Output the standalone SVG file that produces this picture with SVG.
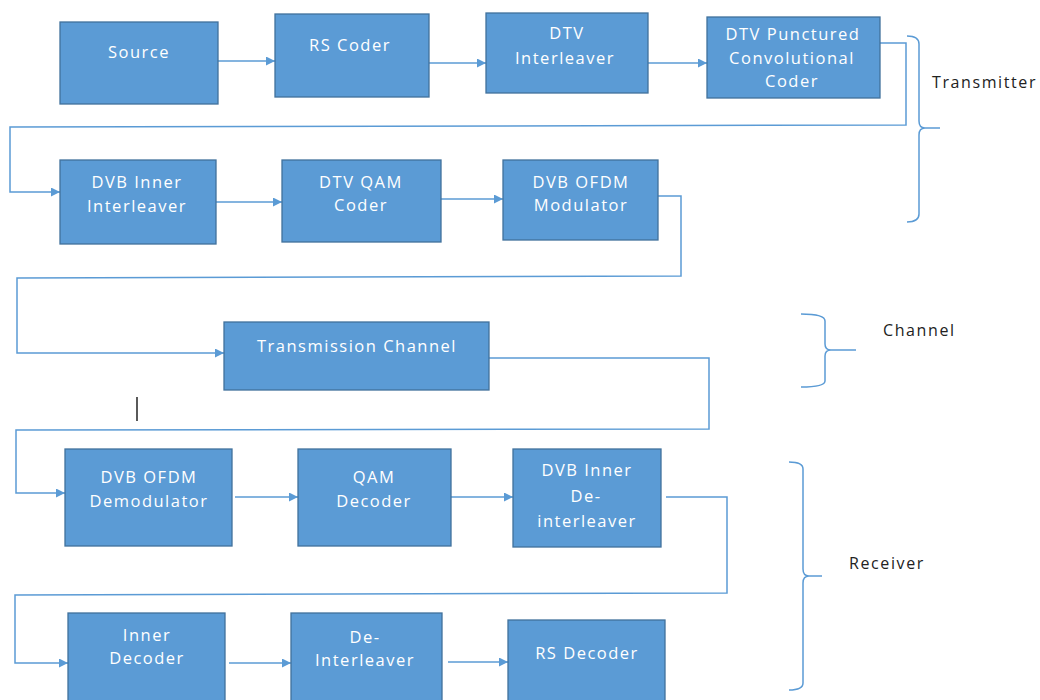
<svg xmlns="http://www.w3.org/2000/svg" width="1040" height="700" viewBox="0 0 1040 700">
<defs>
<marker id="ah" viewBox="0 0 10 10" refX="10" refY="5" markerWidth="9" markerHeight="9" markerUnits="userSpaceOnUse" orient="auto">
<path d="M0,0 L10,5 L0,10 z" fill="#5B9BD5"/>
</marker>
<style>
.box{fill:#5B9BD5;stroke:#41719C;stroke-width:1.3}
.t{fill:#ffffff;font-family:"Open Sans","DejaVu Sans",sans-serif;font-size:16.5px;text-anchor:middle;letter-spacing:1.5px}
.a{fill:none;stroke:#5B9BD5;stroke-width:1.5;marker-end:url(#ah)}
.br{fill:none;stroke:#5B9BD5;stroke-width:1.5}
.lab{fill:#222;font-family:"Open Sans","DejaVu Sans",sans-serif;font-size:16px;letter-spacing:1.6px}
</style>
</defs>
<rect width="1040" height="700" fill="#ffffff"/>

<g id="connectors">
<line class="a" x1="218" y1="61" x2="275" y2="61"/>
<line class="a" x1="429" y1="63" x2="486" y2="63"/>
<line class="a" x1="648" y1="63" x2="707" y2="63"/>
<path class="a" d="M880,43 H906 V125 L10,127 V192 H60"/>
<line class="a" x1="216" y1="202" x2="282" y2="202"/>
<line class="a" x1="441" y1="199" x2="503" y2="199"/>
<path class="a" d="M658,196 H681 V276 L17,278 V353 H224"/>
<path class="a" d="M489,358 H709 V429 L16,430 V493 H65"/>
<line class="a" x1="235" y1="497" x2="298" y2="497"/>
<line class="a" x1="451" y1="497" x2="513" y2="497"/>
<path class="a" d="M666,497 H727 V593 L15,595 V663 H68"/>
<line class="a" x1="229" y1="663" x2="291" y2="663"/>
<line class="a" x1="448" y1="662" x2="508" y2="662"/>
</g>

<g id="source"><rect class="box" x="60" y="22" width="158" height="82"/><text class="t" x="139" y="58">Source</text></g>
<g id="rs-coder"><rect class="box" x="275" y="14" width="154" height="83"/><text class="t" x="350" y="51">RS Coder</text></g>
<g id="dtv-interleaver"><rect class="box" x="486" y="13" width="162" height="80"/><text class="t" x="567" y="39">DTV</text><text class="t" x="565" y="64">Interleaver</text></g>
<g id="dtv-punctured"><rect class="box" x="707" y="17" width="173" height="81"/><text class="t" x="793" y="40">DTV Punctured</text><text class="t" x="792" y="64">Convolutional</text><text class="t" x="792" y="87">Coder</text></g>

<g id="dvb-inner-interleaver"><rect class="box" x="60" y="160" width="156" height="84"/><text class="t" x="137" y="188">DVB Inner</text><text class="t" x="137" y="212">Interleaver</text></g>
<g id="dtv-qam-coder"><rect class="box" x="282" y="160" width="159" height="82"/><text class="t" x="361" y="188">DTV QAM</text><text class="t" x="361" y="211">Coder</text></g>
<g id="dvb-ofdm-mod"><rect class="box" x="503" y="160" width="155" height="80"/><text class="t" x="581" y="188">DVB OFDM</text><text class="t" x="581" y="211">Modulator</text></g>

<g id="transmission-channel"><rect class="box" x="224" y="322" width="265" height="68"/><text class="t" x="357" y="352">Transmission Channel</text></g>

<g id="dvb-ofdm-demod"><rect class="box" x="65" y="449" width="167" height="97"/><text class="t" x="149" y="483">DVB OFDM</text><text class="t" x="149" y="507">Demodulator</text></g>
<g id="qam-decoder"><rect class="box" x="298" y="449" width="153" height="97"/><text class="t" x="374" y="483">QAM</text><text class="t" x="374" y="507">Decoder</text></g>
<g id="dvb-inner-deint"><rect class="box" x="513" y="449" width="148" height="98"/><text class="t" x="587" y="476">DVB Inner</text><text class="t" x="586" y="502">De-</text><text class="t" x="587" y="527">interleaver</text></g>

<g id="inner-decoder"><rect class="box" x="68" y="613" width="157" height="95"/><text class="t" x="147" y="641">Inner</text><text class="t" x="147" y="664">Decoder</text></g>
<g id="de-interleaver"><rect class="box" x="291" y="613" width="151" height="95"/><text class="t" x="365" y="643">De-</text><text class="t" x="365" y="666">Interleaver</text></g>
<g id="rs-decoder"><rect class="box" x="508" y="620" width="157" height="88"/><text class="t" x="587" y="659">RS Decoder</text></g>

<g id="brace-transmitter">
<path class="br" d="M907,36 Q919,36 919,44 V121 Q919,128 925,128 H940 M925,128 Q919,128 919,135 V214 Q919,222 907,222"/>
<text class="lab" x="932" y="88">Transmitter</text>
</g>
<g id="brace-channel">
<path class="br" d="M801,314 Q825,314 825,321 V344 Q825,350 831,350 H856 M831,350 Q825,350 825,356 V381 Q825,387 801,387"/>
<text class="lab" x="883" y="336">Channel</text>
</g>
<g id="brace-receiver">
<path class="br" d="M789,462 Q803,462 803,469 V569 Q803,576 809,576 H822 M809,576 Q803,576 803,583 V683 Q803,690 789,690"/>
<text class="lab" x="849" y="569">Receiver</text>
</g>

<line x1="137" y1="397" x2="137" y2="421" stroke="#000" stroke-width="1.3"/>
</svg>
